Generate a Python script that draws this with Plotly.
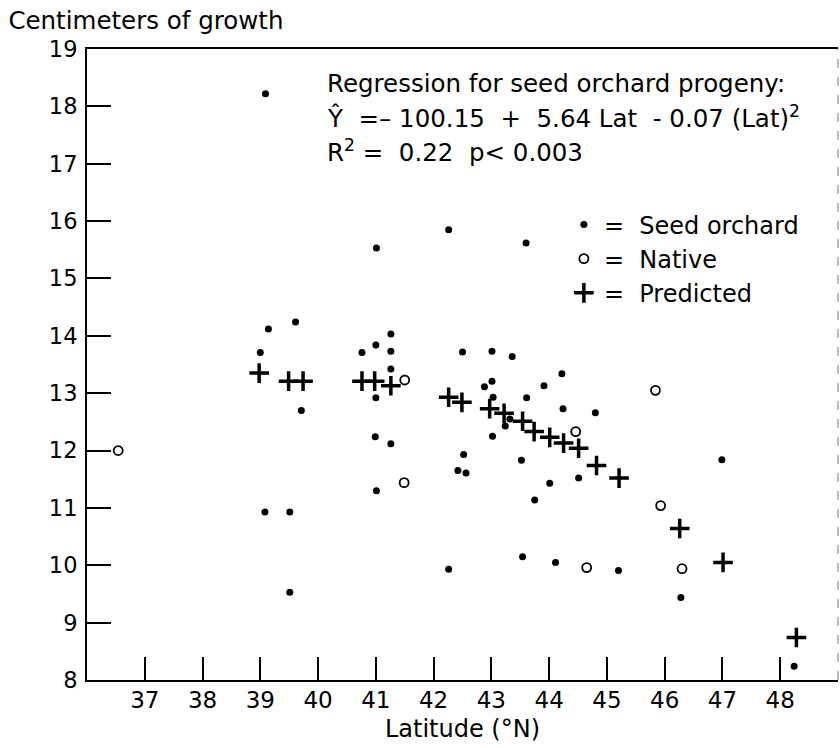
import plotly.graph_objects as go

# Seed orchard progeny (latitude °N, centimeters of growth)
seed_lat = [39.09, 39.14, 39.00, 39.61, 39.71, 39.08, 39.51, 39.51,
            41.01, 41.00, 40.76, 41.26, 41.26, 41.26, 41.00, 40.99, 41.26, 41.01,
            42.26, 43.60, 42.50, 43.01, 43.36, 44.22, 43.01, 42.88, 43.91, 43.03,
            43.61, 44.24, 44.80, 43.32, 43.24, 43.02, 42.52, 43.52, 46.99, 42.42,
            42.56, 44.51, 44.01, 43.75, 43.54, 44.11, 42.26, 45.20, 46.28, 48.24]
seed_growth = [18.22, 14.12, 13.71, 14.24, 12.70, 10.93, 10.93, 9.53,
               15.53, 13.84, 13.71, 14.03, 13.73, 13.42, 12.92, 12.24, 12.12, 11.30,
               15.85, 15.62, 13.72, 13.73, 13.64, 13.34, 13.21, 13.11, 13.13, 12.93,
               12.92, 12.73, 12.66, 12.55, 12.43, 12.25, 11.93, 11.83, 11.84, 11.65,
               11.61, 11.52, 11.43, 11.14, 10.15, 10.05, 9.93, 9.91, 9.44, 8.24]

# Native
native_lat = [36.54, 41.50, 41.49, 45.84, 44.46, 45.93, 44.65, 46.30]
native_growth = [12.00, 13.23, 11.44, 13.05, 12.33, 11.04, 9.96, 9.94]

# Predicted
pred_lat = [38.98, 39.49, 39.74, 40.76, 40.98, 41.26, 42.26, 42.49, 42.97, 43.22,
            43.54, 43.74, 44.01, 44.25, 44.51, 44.82, 45.21, 46.26, 47.01, 48.28]
pred_growth = [13.35, 13.21, 13.21, 13.21, 13.21, 13.13, 12.93, 12.84, 12.73, 12.65,
               12.51, 12.33, 12.23, 12.13, 12.04, 11.74, 11.52, 10.64, 10.05, 8.74]

x_ticks = list(range(37, 49))
y_ticks = list(range(8, 20))

FONT = "DejaVu Sans, Liberation Sans, Arial, sans-serif"
NB = "\u00a0"

fig = go.Figure()
fig.add_trace(go.Scatter(
    x=seed_lat, y=seed_growth, mode="markers", name=f"={NB}{NB}Seed orchard",
    marker=dict(symbol="circle", size=7, color="black")))
fig.add_trace(go.Scatter(
    x=native_lat, y=native_growth, mode="markers", name=f"={NB}{NB}Native",
    marker=dict(symbol="circle-open", size=9, color="black", line=dict(width=1.8, color="black"))))
fig.add_trace(go.Scatter(
    x=pred_lat, y=pred_growth, mode="markers", name=f"={NB}{NB}Predicted",
    marker=dict(symbol="cross-thin", size=14, color="black", line=dict(width=3.5, color="black"))))

fig.update_layout(
    width=840, height=748,
    margin=dict(l=87, r=2, t=49, b=68),
    paper_bgcolor="white", plot_bgcolor="white",
    font=dict(family=FONT, size=23, color="black"),
    title=dict(text="Centimeters of growth", x=0.01, xref="container", xanchor="left",
               y=1 - 20 / 748, yref="container", yanchor="middle",
               font=dict(family=FONT, size=24.5, color="black")),
    legend=dict(x=0.635, y=0.757, xanchor="left", yanchor="top",
                font=dict(family=FONT, size=24, color="black"),
                bgcolor="rgba(0,0,0,0)", tracegroupgap=0, itemwidth=30),
    showlegend=True,
)

fig.update_xaxes(
    range=[36, 49], tickvals=x_ticks, ticktext=[str(v) for v in x_ticks],
    ticks="inside", ticklen=23, tickwidth=2, tickcolor="black",
    showline=True, linecolor="black", linewidth=2, mirror=True,
    showgrid=False, zeroline=False, ticklabelstandoff=-2,
    tickfont=dict(family=FONT, size=23, color="black"),
    title=dict(text="Latitude (°N)", font=dict(family=FONT, size=24, color="black"), standoff=9),
)
fig.update_yaxes(
    range=[8, 19], tickvals=y_ticks, ticktext=[str(v) for v in y_ticks],
    ticks="inside", ticklen=24, tickwidth=2, tickcolor="black",
    showline=True, linecolor="black", linewidth=2, mirror=False,
    showgrid=False, zeroline=False, ticklabelstandoff=3,
    tickfont=dict(family=FONT, size=22.5, color="black"),
)

# faint right border (as in scanned original)
fig.add_shape(type="line", xref="paper", yref="paper", x0=1, x1=1, y0=0, y1=1,
              line=dict(color="#bbbbbb", width=2, dash="dash"))

ann_font = dict(family=FONT, size=24.5, color="black")
fig.add_annotation(xref="paper", yref="paper", x=0.317, y=0.946, xanchor="left", yanchor="middle",
                   showarrow=False, font=ann_font,
                   text="Regression for seed orchard progeny:")
fig.add_annotation(xref="paper", yref="paper", x=0.317, y=0.893, xanchor="left", yanchor="middle",
                   showarrow=False, font=ann_font,
                   text=f"Ŷ{NB}{NB}=\u2013{NB}100.15{NB}{NB}+{NB}{NB}5.64 Lat{NB}{NB}-{NB}0.07 (Lat)<sup>2</sup>")
fig.add_annotation(xref="paper", yref="paper", x=0.317, y=0.838, xanchor="left", yanchor="middle",
                   showarrow=False, font=ann_font,
                   text=f"R<sup>2</sup>{NB}={NB}{NB}0.22{NB}{NB}p<{NB}0.003")

fig.write_html("out.html", config={"displayModeBar": False},
               post_script="document.body.style.margin='0';")
